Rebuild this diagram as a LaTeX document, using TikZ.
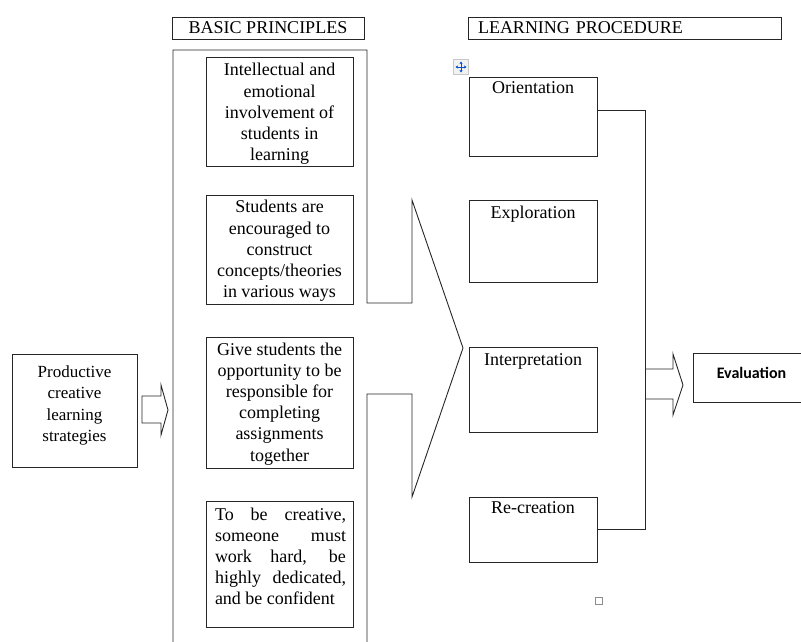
\documentclass[tikz,border=0pt]{standalone}
\usepackage{fontspec}
\setmainfont{Liberation Serif}
\newfontfamily\calfont{Carlito}
\usetikzlibrary{arrows.meta}
\begin{document}
\begin{tikzpicture}[x=1pt,y=-1pt,
  ln/.style={line width=0.9pt, draw=black!85},
  bbox/.style={ln, rectangle, inner sep=0pt},
  txt/.style={font=\fontsize{18}{21.2}\selectfont, align=center, inner sep=0pt},
  lbl/.style={font=\fontsize{18}{21.2}\selectfont, inner sep=0pt, anchor=base},
]
\useasboundingbox (0,0) rectangle (801,641);

% left box
\node[bbox, minimum width=125pt, minimum height=113pt] (prod) at (74.5,410.5) {};
\node[txt, font=\fontsize{17}{21.5}\selectfont] (prodt) at (74.5,405.3) {Productive\\creative\\learning\\strategies};
\draw[ln] (142,396) -- (161,396) -- (161,385) -- (168,410) -- (161,435) -- (161,423) -- (142,423) -- cycle;

% headers
\node[bbox, minimum width=192pt, minimum height=22pt, font=\fontsize{18}{21.2}\selectfont] (bp) at (268,28) {BASIC PRINCIPLES};
\node[bbox, minimum height=22pt, inner xsep=10pt, text width=293pt, align=left, font=\fontsize{18}{21.2}\selectfont] (lp) at (624.5,28) {LEARNING PROCEDURE};

% big frame / arrow
\draw[ln] (173,645) -- (173,50) -- (367,50) -- (367,303) -- (412,303) -- (412,200) -- (463,348) -- (412,497) -- (412,394) -- (367,394) -- (367,645);

% principles
\node[bbox, minimum width=147pt, minimum height=109pt] (b1) at (279.5,111.5) {};
\node[txt] (b1t) at (279.5,114.0) {Intellectual and\\emotional\\involvement of\\students in\\learning};
\node[bbox, minimum width=147pt, minimum height=109pt] (b2) at (279.5,249.5) {};
\node[txt] (b2t) at (279.5,251.0) {Students are\\encouraged to\\construct\\concepts/theories\\in various ways};
\node[bbox, minimum width=147pt, minimum height=131pt] (b3) at (279.5,402.5) {};
\node[txt] (b3t) at (279.5,403.8) {Give students the\\opportunity to be\\responsible for\\completing\\assignments\\together};
\node[bbox, minimum width=147pt, minimum height=126pt] (b4) at (279.5,564) {};
\node[txt, align=left] (b4t) at (280.5,556.3) {\makebox[131pt][s]{To be creative,}\\\makebox[131pt][s]{someone must}\\\makebox[131pt][s]{work hard, be}\\\makebox[131pt][s]{highly dedicated,}\\and be confident};

% procedure
\node[bbox, minimum width=128pt, minimum height=79pt] (o) at (533,116.5) {};
\node[lbl] (ot) at (533,93) {Orientation};
\node[bbox, minimum width=128pt, minimum height=82pt] (e) at (533,241) {};
\node[lbl] (et) at (533,218) {Exploration};
\node[bbox, minimum width=128pt, minimum height=85pt] (i) at (533,389.5) {};
\node[lbl] (it) at (533,365) {Interpretation};
\node[bbox, minimum width=128pt, minimum height=65pt] (r) at (533,529.5) {};
\node[lbl] (rt) at (533,513) {Re-creation};

\draw[ln] ([yshift=6.5pt]o.east) -- ++(48,0) |- (r.east);

% arrow to evaluation
\draw[ln] (645,369) -- (673,369) -- (673,354) -- (683,385) -- (673,415) -- (673,399) -- (645,399);

% evaluation
\node[inner sep=0pt, minimum width=107pt, minimum height=48pt] (ev) at (747.5,378) {};
\draw[ln] ([xshift=6pt]ev.north east) -- (ev.north west) -- (ev.south west) -- ([xshift=6pt]ev.south east);
\node[font=\calfont\bfseries\fontsize{16}{19}\selectfont, anchor=base, inner sep=0pt] (evt) at (751.5,378.3) {Evaluation};

% editor handles
\node[draw=black!22, fill=black!5, line width=0.8pt, minimum size=15pt, inner sep=0pt] (mv) at (461,67) {};
\draw[{Stealth[length=2.6pt,width=3.2pt]}-{Stealth[length=2.6pt,width=3.2pt]}, draw=blue!60!cyan!80!black, fill=blue!60!cyan!80!black, line width=0.7pt] ([xshift=-5.5pt]mv.center) -- ([xshift=5.5pt]mv.center);
\draw[{Stealth[length=2.6pt,width=3.2pt]}-{Stealth[length=2.6pt,width=3.2pt]}, draw=blue!60!cyan!80!black, fill=blue!60!cyan!80!black, line width=0.7pt] ([yshift=-5.5pt]mv.center) -- ([yshift=5.5pt]mv.center);
\node[draw=black!45, fill=white, line width=0.7pt, minimum size=7pt, inner sep=0pt] (hd) at (599,600.5) {};
\end{tikzpicture}
\end{document}
